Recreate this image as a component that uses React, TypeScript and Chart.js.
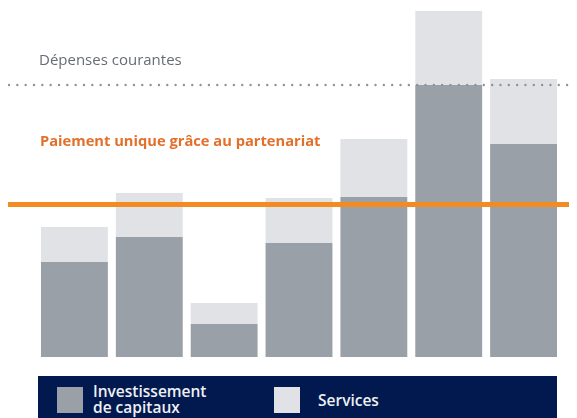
import React, { useEffect, useRef } from "react";
import { Chart, registerables } from "chart.js";

Chart.register(...registerables);

const categories = ["1", "2", "3", "4", "5", "6", "7"];
const capitalInvestment = [95, 120, 33, 114, 160, 272, 213];
const services = [35, 44, 21, 45, 58, 74, 65];
const currentSpending = 272;
const oneTimePayment = 152.5;
const yMax = 349;

const GRAY = "#99a0a7";
const LIGHT = "#e1e2e6";
const ORANGE = "#f28c22";
const NAVY = "#02194f";

const refLines = {
  id: "refLines",
  afterDatasetsDraw(chart: any) {
    const { ctx } = chart;
    const y = chart.scales.y;
    const w = chart.width;
    const yd = y.getPixelForValue(currentSpending);
    ctx.save();
    ctx.beginPath();
    ctx.setLineDash([0, 8.33]);
    ctx.lineCap = "round";
    ctx.lineWidth = 2.4;
    ctx.strokeStyle = "#8d9299";
    ctx.moveTo(1, yd);
    ctx.lineTo(w, yd);
    ctx.stroke();
    ctx.restore();
    const yo = y.getPixelForValue(oneTimePayment);
    ctx.save();
    ctx.beginPath();
    ctx.lineWidth = 5;
    ctx.strokeStyle = ORANGE;
    ctx.moveTo(0, yo);
    ctx.lineTo(w, yo);
    ctx.stroke();
    ctx.restore();
  },
};

export default function App() {
  const ref = useRef<HTMLCanvasElement>(null);
  useEffect(() => {
    document.body.style.overflow = "hidden";
    const chart = new Chart(ref.current!, {
      type: "bar",
      data: {
        labels: categories,
        datasets: [
          {
            label: "Investissement de capitaux",
            data: capitalInvestment,
            backgroundColor: GRAY,
            borderWidth: 0,
            categoryPercentage: 1,
            barPercentage: 67 / 75,
          },
          {
            label: "Services",
            data: services,
            backgroundColor: LIGHT,
            borderWidth: 0,
            categoryPercentage: 1,
            barPercentage: 67 / 75,
          },
        ],
      },
      options: {
        responsive: false,
        animation: false,
        layout: { padding: { left: 29, right: 16, top: 0, bottom: 0 } },
        plugins: { legend: { display: false }, tooltip: { enabled: false } },
        scales: {
          x: { stacked: true, display: false },
          y: { stacked: true, display: false, min: 0, max: yMax },
        },
      },
      plugins: [refLines],
    });
    return () => chart.destroy();
  }, []);

  const font = "'Open Sans', sans-serif";
  return (
    <div style={{ position: "relative", width: 569, height: 410, overflow: "hidden", fontFamily: font }}>
      <canvas ref={ref} width={569} height={349} style={{ position: "absolute", left: 0, top: 0, width: 569, height: 349 }} />
      <div style={{ position: "absolute", left: 31, top: 41, fontSize: 15, lineHeight: "20px", color: "#676c74", whiteSpace: "nowrap" }}>
        Dépenses courantes
      </div>
      <div style={{ position: "absolute", left: 32, top: 122, fontSize: 14.7, lineHeight: "20px", fontWeight: 700, color: "#e3702a", whiteSpace: "nowrap" }}>
        Paiement unique grâce au partenariat
      </div>
      <div style={{ position: "absolute", left: 30, top: 368, width: 519, height: 50, background: NAVY }}>
        <div style={{ position: "absolute", left: 19, top: 11, width: 26, height: 26, background: GRAY }} />
        <div style={{ position: "absolute", left: 55, top: 7, fontSize: 15.5, lineHeight: "16px", fontWeight: 600, color: "#eef0f4", whiteSpace: "nowrap" }}>
          Investissement
          <br />
          de capitaux
        </div>
        <div style={{ position: "absolute", left: 236, top: 11, width: 26, height: 26, background: LIGHT }} />
        <div style={{ position: "absolute", left: 280, top: 15.5, fontSize: 15.5, lineHeight: "16px", fontWeight: 600, color: "#eef0f4", whiteSpace: "nowrap" }}>
          Services
        </div>
      </div>
    </div>
  );
}
